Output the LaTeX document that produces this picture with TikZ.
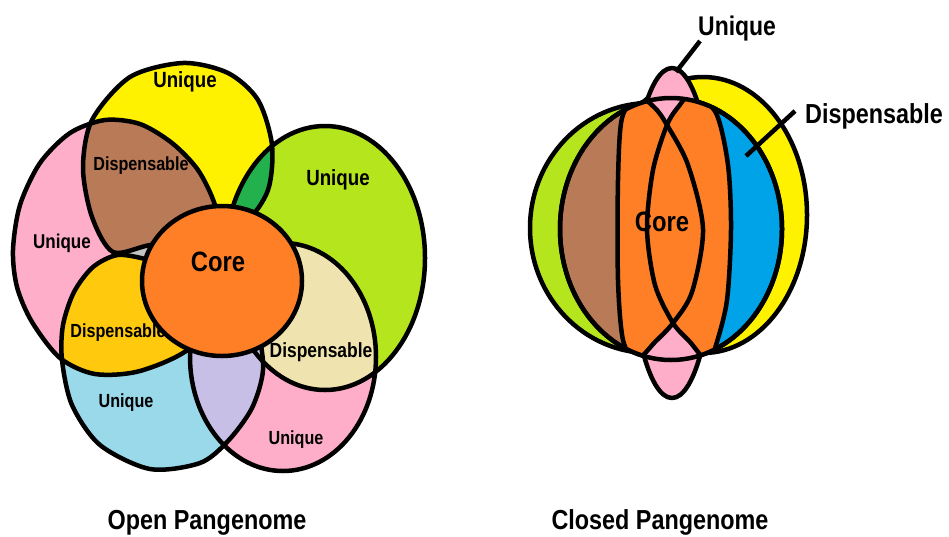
\documentclass[tikz,border=0pt]{standalone}
\usepackage{fontspec}
\setmainfont{Liberation Sans}[FakeStretch=0.85]
\definecolor{cYel}{HTML}{FFF200}
\definecolor{cPink}{HTML}{FFAEC9}
\definecolor{cBrown}{HTML}{B97A57}
\definecolor{cLime}{HTML}{B5E61D}
\definecolor{cDkGreen}{HTML}{22B14C}
\definecolor{cOrange}{HTML}{FF7F27}
\definecolor{cGold}{HTML}{FFC90E}
\definecolor{cBeige}{HTML}{EFE4B0}
\definecolor{cLtBlue}{HTML}{99D9EA}
\definecolor{cLav}{HTML}{C8BFE7}
\definecolor{cGray}{HTML}{C3C3C3}
\definecolor{cBlue}{HTML}{00A2E8}
% left (open) petals
\newcommand\shY{plot[smooth cycle] coordinates {(183,63) (228,73) (258,100) (272,145) (268,190) (245,222) (200,238) (150,245) (113,252) (92,217) (83,168) (92,120) (130,77)}}
\newcommand\shPa{plot[smooth cycle] coordinates {(13,250) (20,205) (40,163) (70,133) (105,120) (140,124) (172,143) (198,170) (215,205) (224,250) (215,305) (190,348) (140,371) (95,374) (60,358) (32,322) (17,287)}}
\newcommand\shB{plot[smooth cycle] coordinates {(118,255) (93,267) (74,292) (63,325) (62,360) (72,405) (100,445) (150,469) (200,463) (228,441) (252,408) (263,370) (257,330) (235,295) (190,270) (150,260)}}
\newcommand\shG{(325,258) ellipse [x radius=100, y radius=132]}
\newcommand\shPb{(283,357) ellipse [x radius=93, y radius=114]}
\newcommand\shCore{(222,281) ellipse [x radius=80, y radius=75]}
% right (closed) shapes
\newcommand\shRG{(650,228) ellipse [x radius=120, y radius=125]}
\newcommand\shRY{(703,215) ellipse [x radius=104, y radius=138]}
\newcommand\shRC{(671,229) ellipse [x radius=111, y radius=131]}
\newcommand\shRP{(672,233) ellipse [x radius=42, y radius=165]}
\newcommand\shRA{plot[smooth cycle] coordinates {(638,97) (655,108) (667,125) (688,165) (703,229) (692,292) (673,323) (655,342) (636,360) (623,340) (618,280) (618,180) (622,118)}}
\newcommand\shRB{plot[smooth cycle] coordinates {(692,94) (716,113) (728,165) (731,229) (727,300) (716,345) (708,362) (690,342) (673,323) (655,285) (647,229) (653,170) (667,125) (679,106)}}
\begin{document}
\begin{tikzpicture}[x=1pt,y=-1pt,line join=round,
  ol/.style={draw=black,line width=4.5pt},
  lab/.style={font=\bfseries\fontsize{#1}{#1}\selectfont,text=black,inner sep=0pt},
  lab/.default=19,
  leader/.style={draw=black,line width=4.5pt}]
\useasboundingbox (0,0) rectangle (949,536);
\fill[white] (0,0) rectangle (949,536);

% ---------------- Open pangenome ----------------
\fill[cPink] \shPa;
\fill[cGray] (124,253) -- (150,238) -- (165,245) -- (160,272) -- (140,268) -- cycle;
\fill[cYel] \shY;
\fill[cLime] \shG;
\fill[cPink] \shPb;
\fill[cLtBlue] \shB;
\begin{scope}\clip \shPa; \fill[cBrown] \shY; \end{scope}
\begin{scope}\clip \shY; \fill[cDkGreen] \shG; \end{scope}
\begin{scope}\clip \shG; \fill[cBeige] \shPb; \end{scope}
\begin{scope}\clip \shPb; \fill[cLav] \shB; \end{scope}
\begin{scope}\clip \shB; \fill[cGold] \shPa; \end{scope}
\draw[ol] \shY;
\draw[ol] \shPa;
\draw[ol] \shG;
\draw[ol] \shPb;
\draw[ol] \shB;

\node[lab=22] (u1) at (185,82) {Unique};
\node[lab=22] (u2) at (338,180) {Unique};
\node[lab=20] (u3) at (62,243) {Unique};
\node[lab=19] (u4) at (126,403) {Unique};
\node[lab=19] (u5) at (296,440) {Unique};
\node[lab=19] (d1) at (141,166) {Dispensable};
\node[lab=19] (d2) at (118,333) {Dispensable};
\node[lab=20.5] (d3) at (321,352) {Dispensable};

\fill[cOrange] \shCore;
\draw[ol] \shCore;
\node[lab=28] (core) at (218,262) {Core};

% ---------------- Closed pangenome ----------------
\fill[cLime] \shRG; \draw[ol] \shRG;
\fill[cYel] \shRY; \draw[ol] \shRY;
\fill[cBrown] \shRC;
\begin{scope}\clip \shRC; \fill[cBlue] (690,0) rectangle (800,420); \end{scope}
\draw[ol] \shRC;
\fill[cPink] \shRP; \draw[ol] \shRP;
\begin{scope}\clip \shRC;
  \fill[cOrange] \shRA;
  \fill[cOrange] \shRB;
\end{scope}
\node[lab=28] (rcore) at (662,222) {Core};
\begin{scope}\clip \shRC;
  \draw[ol] \shRA;
  \draw[ol] \shRB;
\end{scope}
\draw[ol] \shRC;

\node[lab=27,anchor=west] (rulab) at (698,29) {Unique};
\coordinate (ru1) at (700,41);
\coordinate (ru2) at (676,72);
\draw[leader] (ru1) -- (ru2);
\node[lab=27.5,anchor=west] (rdlab) at (805,116) {Dispensable};
\coordinate (rd1) at (795,111);
\coordinate (rd2) at (746,156);
\draw[leader] (rd1) -- (rd2);

\node[lab=27.5,anchor=base] (open) at (207,529) {Open Pangenome};
\node[lab=27.5,anchor=base] (closed) at (660,529) {Closed Pangenome};
\end{tikzpicture}
\end{document}
